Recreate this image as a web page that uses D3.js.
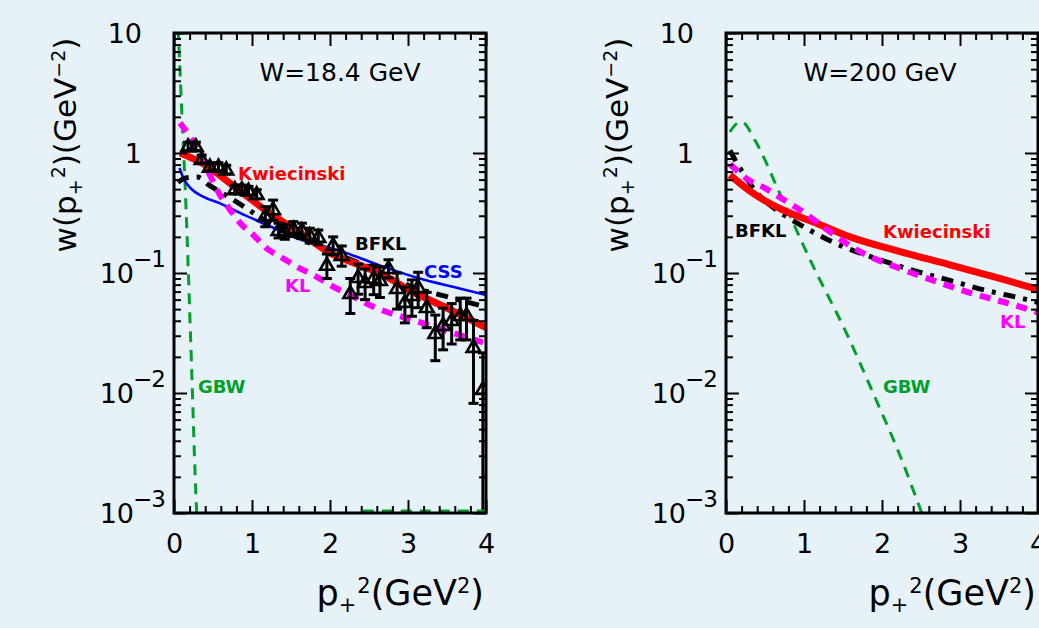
<!DOCTYPE html>
<html><head><meta charset="utf-8">
<script src="https://cdn.jsdelivr.net/npm/d3@7"></script>
<style>
html,body{margin:0;padding:0;background:#e7f2f8;}
svg{display:block;}
text{font-family:"DejaVu Sans",sans-serif;fill:#000;}
</style></head><body>
<svg id="c" width="1039" height="628"></svg>
<script>
// ---------------- data ----------------
const xMajorTicks = [0, 1, 2, 3, 4];
const xTickLabels = ["0", "1", "2", "3", "4"];
const yMajorTicks = [10, 1, 0.1, 0.01, 0.001];
const yTickBases = ["10", "1", "10", "10", "10"];
const yTickExps = ["", "", "−1", "−2", "−3"];
const panelTitles = ["W=18.4 GeV", "W=200 GeV"];

// W = 18.4 GeV panel
const leftKwiecinski = [[0.08,1.0],[0.38,0.81],[0.8,0.51],[1.23,0.314],[1.6,0.22],[2.0,0.147],[2.4,0.115],[2.73,0.093],[3.0,0.073],[3.5,0.051],[4.0,0.035]];
const leftCSS = [[0.07,0.75],[0.13,0.6],[0.2,0.52],[0.38,0.43],[0.59,0.38],[0.9,0.305],[1.23,0.245],[1.53,0.2],[2.17,0.15],[2.6,0.118],[3.15,0.09],[3.6,0.076],[4.0,0.0656]];
const leftBFKL = [[0.05,0.57],[0.15,0.62],[0.3,0.63],[0.45,0.54],[0.7,0.43],[0.93,0.346],[1.12,0.286],[1.5,0.21],[2.0,0.152],[2.5,0.112],[3.11,0.0745],[3.5,0.0635],[4.0,0.052]];
const leftKL = [[0.077,1.78],[0.205,1.37],[0.31,1.06],[0.46,0.656],[0.59,0.447],[0.72,0.335],[0.85,0.26],[1.02,0.207],[1.19,0.16],[1.36,0.137],[1.62,0.109],[1.83,0.093],[2.04,0.077],[2.3,0.0635],[2.51,0.054],[3.15,0.039],[3.99,0.026]];
const leftGBW = [[0.04,16],[0.055,10],[0.1,2.2],[0.15,0.41],[0.214,0.0275],[0.291,0.001],[0.31,0.0006]];
const leftGBWFloor = [[2.42,0.001],[4.0,0.001]];

// measured points (W = 18.4 GeV)
const dataX = [0.18,0.28,0.355,0.46,0.57,0.67,0.78,0.87,0.955,1.06,1.17,1.27,1.34,1.42,1.53,1.64,1.74,1.85,1.96,2.04,2.15,2.26,2.36,2.45,2.56,2.64,2.75,2.86,2.96,3.05,3.13,3.24,3.35,3.45,3.56,3.67,3.75,3.84,3.96];
const dataY = [1.14,1.14,0.89,0.77,0.77,0.73,0.50,0.50,0.487,0.455,0.30,0.34,0.228,0.222,0.235,0.228,0.207,0.20,0.117,0.171,0.141,0.068,0.0926,0.084,0.091,0.0875,0.110,0.075,0.0574,0.0656,0.0764,0.052,0.0316,0.0369,0.0406,0.0447,0.0447,0.0242,0.0108];
const dataErr = [0.09,0.09,0.07,0.06,0.06,0.06,0.04,0.04,0.04,0.04,0.057,0.065,0.032,0.031,0.033,0.032,0.029,0.028,0.027,0.029,0.027,0.022,0.026,0.024,0.025,0.025,0.019,0.025,0.019,0.022,0.025,0.017,0.013,0.014,0.015,0.017,0.017,0.016,0.0108];

// W = 200 GeV panel
const rightKwiecinski = [[0.05,0.656],[0.35,0.46],[0.73,0.335],[1.16,0.26],[1.59,0.2],[2.23,0.151],[2.87,0.117],[3.51,0.090],[4.0,0.073]];
const rightBFKL = [[0.05,1.05],[0.18,0.745],[0.46,0.42],[0.65,0.335],[1.03,0.236],[1.5,0.166],[1.91,0.133],[2.38,0.106],[2.85,0.0875],[3.32,0.072],[3.79,0.0615],[4.0,0.057]];
const rightKL = [[0.05,0.81],[0.29,0.596],[0.5,0.51],[0.71,0.42],[0.95,0.335],[1.33,0.221],[1.54,0.177],[1.76,0.146],[2.23,0.109],[2.7,0.0847],[3.15,0.0677],[3.62,0.0559],[4.0,0.047]];
const rightGBW = [[0.05,1.5],[0.12,1.72],[0.2,1.82],[0.37,1.28],[0.69,0.46],[1.08,0.128],[1.55,0.031],[1.88,0.0102],[2.27,0.0026],[2.51,0.001],[2.6,0.0007]];

// ---------------- drawing ----------------
const svg = d3.select("#c");
const TOP = 33, BOT = 513;
const COL = {red:"#ff0000", blue:"#0000ff", black:"#000000", mag:"#ff00ff", green:"#00a02a"};

const panels = [
  { id:"L", x0:174, x1:486, title:panelTitles[0], titleX:340, ytitleX:65,
    curves:[
      {d:leftGBW, c:COL.green, w:3, dash:"11,8"},
      {d:leftCSS, c:COL.blue, w:2.6},
      {d:leftBFKL, c:COL.black, w:5, dash:"12,8,4,8"},
      {d:leftKwiecinski, c:COL.red, w:7},
      {d:leftKL, c:COL.mag, w:6, dash:"11,8"}
    ],
    labels:[
      {t:"Kwiecinski", x:238, y:180, c:COL.red},
      {t:"BFKL", x:355, y:250, c:COL.black},
      {t:"CSS", x:424, y:278, c:COL.blue},
      {t:"KL", x:285, y:292, c:COL.mag},
      {t:"GBW", x:198, y:393, c:COL.green}
    ], data:true },
  { id:"R", x0:726, x1:1038, title:panelTitles[1], titleX:880, ytitleX:617,
    curves:[
      {d:rightGBW, c:COL.green, w:3, dash:"11,8"},
      {d:rightBFKL, c:COL.black, w:5, dash:"12,8,4,8"},
      {d:rightKwiecinski, c:COL.red, w:7},
      {d:rightKL, c:COL.mag, w:6, dash:"11,8"}
    ],
    labels:[
      {t:"Kwiecinski", x:883, y:238, c:COL.red},
      {t:"BFKL", x:735, y:237, c:COL.black},
      {t:"KL", x:1000, y:328, c:COL.mag},
      {t:"GBW", x:883, y:393, c:COL.green}
    ], data:false }
];

const xMinorTicks = d3.range(0, 4.001, 0.2).filter(v => Math.abs(v - Math.round(v)) > 1e-6);
const yMinorTicks = [];
[0.001, 0.01, 0.1, 1].forEach(d => { for (let k = 2; k <= 9; k++) yMinorTicks.push(d * k); });

panels.forEach(p => {
  const x = d3.scaleLinear().domain([0, 4]).range([p.x0, p.x1]);
  const y = d3.scaleLog().domain([1e-3, 10]).range([BOT, TOP]);
  const g = svg.append("g");
  const clipId = "clip" + p.id;
  svg.append("clipPath").attr("id", clipId).append("rect")
    .attr("x", p.x0).attr("y", TOP).attr("width", p.x1 - p.x0).attr("height", BOT - TOP);

  const line = d3.line().x(d => x(d[0])).y(d => y(d[1])).curve(d3.curveMonotoneX);
  const cg = g.append("g").attr("clip-path", `url(#${clipId})`);
  p.curves.forEach(c => {
    cg.append("path").attr("d", line(c.d)).attr("fill", "none")
      .attr("stroke", c.c).attr("stroke-width", c.w)
      .attr("stroke-dasharray", c.dash || null).attr("stroke-linejoin", "round");
  });

  if (p.data) {
    const dg = cg.append("g");
    dataX.forEach((xv, i) => {
      const v = dataY[i], e = dataErr[i];
      const yHi = y(v + e);
      const yLo = (v - e) > 1e-3 ? y(v - e) : BOT + 5;
      const cx = x(xv), cy = y(v);
      dg.append("line").attr("x1", cx).attr("x2", cx).attr("y1", yHi).attr("y2", yLo)
        .attr("stroke", "#000").attr("stroke-width", 3);
      dg.append("line").attr("x1", cx - 5).attr("x2", cx + 5).attr("y1", yHi).attr("y2", yHi)
        .attr("stroke", "#000").attr("stroke-width", 3);
      if ((v - e) > 1e-3)
        dg.append("line").attr("x1", cx - 5).attr("x2", cx + 5).attr("y1", yLo).attr("y2", yLo)
          .attr("stroke", "#000").attr("stroke-width", 3);
    });
    const sym = d3.symbol().type(d3.symbolTriangle).size(82);
    dataX.forEach((xv, i) => {
      dg.append("path").attr("d", sym()).attr("transform", `translate(${x(xv)},${y(dataY[i]) + 1})`)
        .attr("fill", "none").attr("stroke", "#000").attr("stroke-width", 2.6)
        .attr("stroke-linejoin", "miter");
    });
  }

  // green floor segment (left panel)
  if (p.id === "L") {
    g.append("path").attr("d", line(leftGBWFloor)).attr("fill", "none")
      .attr("stroke", COL.green).attr("stroke-width", 3).attr("stroke-dasharray", "11,8")
      .attr("transform", "translate(0,-2)");
  }

  // frame
  g.append("rect").attr("x", p.x0).attr("y", TOP).attr("width", p.x1 - p.x0).attr("height", BOT - TOP)
    .attr("fill", "none").attr("stroke", "#000").attr("stroke-width", 3);

  // ticks via axes
  const tickStyle = sel => { sel.select(".domain").remove(); sel.selectAll(".tick line").attr("stroke", "#000").attr("stroke-width", 2); sel.selectAll(".tick text").remove(); };
  g.append("g").attr("transform", `translate(0,${BOT})`).call(d3.axisBottom(x).tickValues(xMajorTicks).tickSize(-13)).call(tickStyle);
  g.append("g").attr("transform", `translate(0,${BOT})`).call(d3.axisBottom(x).tickValues(xMinorTicks).tickSize(-7)).call(tickStyle);
  g.append("g").attr("transform", `translate(0,${TOP})`).call(d3.axisTop(x).tickValues(xMajorTicks).tickSize(-13)).call(tickStyle);
  g.append("g").attr("transform", `translate(0,${TOP})`).call(d3.axisTop(x).tickValues(xMinorTicks).tickSize(-7)).call(tickStyle);
  g.append("g").attr("transform", `translate(${p.x0},0)`).call(d3.axisLeft(y).tickValues(yMajorTicks).tickSize(-13)).call(tickStyle);
  g.append("g").attr("transform", `translate(${p.x0},0)`).call(d3.axisLeft(y).tickValues(yMinorTicks).tickSize(-7)).call(tickStyle);
  g.append("g").attr("transform", `translate(${p.x1},0)`).call(d3.axisRight(y).tickValues(yMajorTicks).tickSize(-13)).call(tickStyle);
  g.append("g").attr("transform", `translate(${p.x1},0)`).call(d3.axisRight(y).tickValues(yMinorTicks).tickSize(-7)).call(tickStyle);

  // x tick labels
  const xl = g.append("g").attr("transform", `translate(0,${BOT})`)
    .call(d3.axisBottom(x).tickValues(xMajorTicks).tickSize(0).tickPadding(21).tickFormat((d, i) => xTickLabels[i]));
  xl.select(".domain").remove();
  xl.selectAll("text").attr("font-size", 27).attr("font-family", "DejaVu Sans").attr("fill", "#000");

  // y tick labels
  yMajorTicks.forEach((v, i) => {
    const cy = y(v);
    if (yTickExps[i] === "") {
      g.append("text").attr("x", p.x0 - 32).attr("y", cy + 10).attr("text-anchor", "end")
        .attr("font-size", 27).text(yTickBases[i]);
    } else {
      g.append("text").attr("x", p.x0 - 40).attr("y", cy + 10).attr("text-anchor", "end")
        .attr("font-size", 27).text(yTickBases[i]);
      g.append("text").attr("x", p.x0 - 41).attr("y", cy - 6).attr("text-anchor", "start")
        .attr("font-size", 23).attr("letter-spacing", -1).text(yTickExps[i]);
    }
  });

  // panel title
  g.append("text").attr("x", p.titleX).attr("y", 81).attr("text-anchor", "middle")
    .attr("font-size", 25).text(p.title);

  // curve labels
  p.labels.forEach(l => {
    g.append("text").attr("x", l.x).attr("y", l.y).attr("font-family", "Liberation Sans")
      .attr("font-weight", "bold").attr("font-size", 18).attr("fill", l.c).style("fill", l.c).text(l.t);
  });

  // x title  p+^2(GeV^2)
  const xt = g.append("text").attr("x", p.x1 - 2).attr("y", 605).attr("text-anchor", "end").attr("font-size", 35);
  xt.append("tspan").text("p");
  xt.append("tspan").attr("font-size", 21).attr("dy", 7).text("+");
  xt.append("tspan").attr("font-size", 21).attr("dy", -19).attr("dx", 1).text("2");
  xt.append("tspan").attr("dy", 12).text("(GeV");
  xt.append("tspan").attr("font-size", 21).attr("dy", -12).text("2");
  xt.append("tspan").attr("dy", 12).text(")");

  // y title  w(p+^2)(GeV^-2)
  const yt = g.append("text").attr("transform", `translate(${p.ytitleX + 11},145) rotate(-90)`)
    .attr("text-anchor", "middle").attr("font-size", 31);
  yt.append("tspan").text("w(p");
  yt.append("tspan").attr("font-size", 19).attr("dy", 6).text("+");
  yt.append("tspan").attr("font-size", 19).attr("dy", -17).attr("dx", 1).text("2");
  yt.append("tspan").attr("dy", 11).text(")(GeV");
  yt.append("tspan").attr("font-size", 19).attr("dy", -11).text("−2");
  yt.append("tspan").attr("dy", 11).text(")");
});
</script>
</body></html>
